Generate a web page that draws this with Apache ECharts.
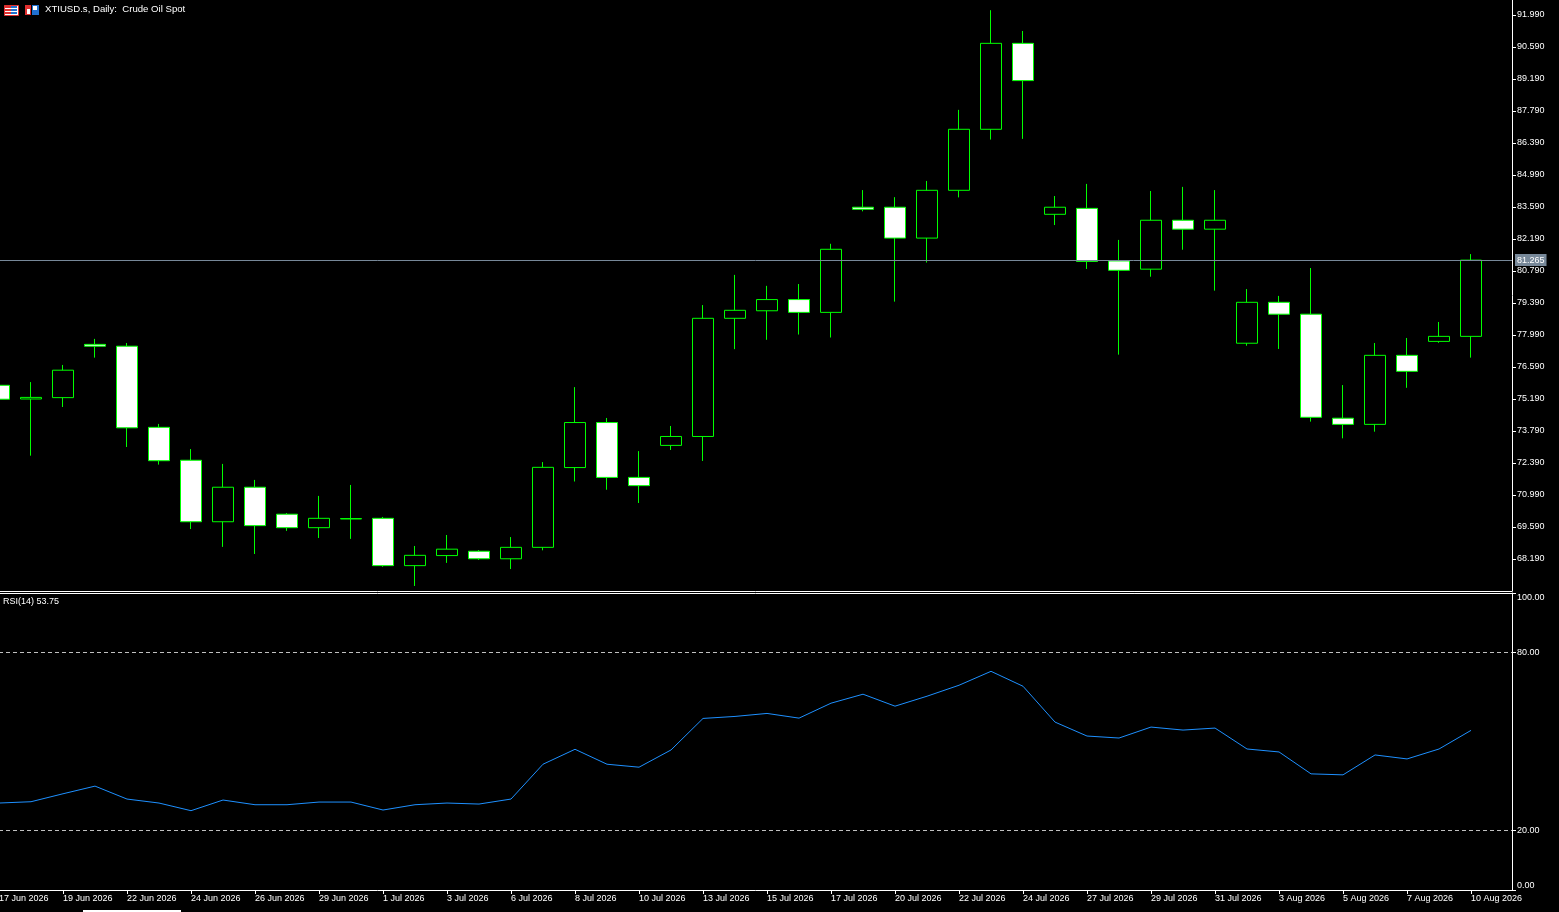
<!DOCTYPE html>
<html>
<head>
<meta charset="utf-8">
<title>XTIUSD.s Daily</title>
<script src="https://cdn.jsdelivr.net/npm/echarts@6.0.0/dist/echarts.min.js"></script>
<style>
  html, body { margin: 0; padding: 0; background: #000; }
  #chart { width: 1559px; height: 912px; }
</style>
</head>
<body>
<div id="chart"></div>
<script>
// 日期（每周含一根周日K线）
const dates = [
  '17 Jun 2026', '18 Jun 2026', '19 Jun 2026', '21 Jun 2026', '22 Jun 2026', '23 Jun 2026',
  '24 Jun 2026', '25 Jun 2026', '26 Jun 2026', '28 Jun 2026', '29 Jun 2026', '30 Jun 2026',
  '1 Jul 2026', '2 Jul 2026', '3 Jul 2026', '5 Jul 2026', '6 Jul 2026', '7 Jul 2026',
  '8 Jul 2026', '9 Jul 2026', '10 Jul 2026', '12 Jul 2026', '13 Jul 2026', '14 Jul 2026',
  '15 Jul 2026', '16 Jul 2026', '17 Jul 2026', '19 Jul 2026', '20 Jul 2026', '21 Jul 2026',
  '22 Jul 2026', '23 Jul 2026', '24 Jul 2026', '26 Jul 2026', '27 Jul 2026', '28 Jul 2026',
  '29 Jul 2026', '30 Jul 2026', '31 Jul 2026', '2 Aug 2026', '3 Aug 2026', '4 Aug 2026',
  '5 Aug 2026', '6 Aug 2026', '7 Aug 2026', '9 Aug 2026', '10 Aug 2026'
];
// OHLC
const opens = [
  75.79, 75.19, 75.25, 77.58, 77.50, 73.95, 72.51, 69.82, 71.33, 70.15, 69.56, 69.94,
  69.97, 67.90, 68.34, 68.53, 68.20, 68.70, 72.19, 74.16, 71.76, 73.16, 73.55, 78.72,
  79.05, 79.54, 78.98, 83.58, 83.58, 82.23, 84.32, 86.99, 90.75, 83.27, 83.53, 81.23,
  80.87, 83.01, 82.62, 77.63, 79.42, 78.90, 74.35, 74.08, 77.10, 77.71, 77.93
];
const highs = [
  75.85, 75.93, 76.68, 77.82, 77.64, 74.10, 73.00, 72.35, 71.65, 70.20, 70.95, 71.43,
  70.03, 68.76, 69.24, 68.58, 69.15, 72.43, 75.71, 74.36, 72.91, 74.01, 79.30, 80.62,
  80.14, 80.22, 81.98, 84.33, 84.02, 84.73, 87.84, 92.20, 91.29, 84.07, 84.60, 82.15,
  84.29, 84.47, 84.33, 80.00, 79.70, 80.92, 75.80, 77.64, 77.86, 78.56, 81.53
];
const lows = [
  75.12, 72.71, 74.84, 77.00, 73.09, 72.32, 69.50, 68.72, 68.41, 69.42, 69.11, 69.07,
  67.85, 67.01, 68.02, 68.15, 67.75, 68.57, 71.58, 71.22, 70.64, 72.96, 72.48, 77.37,
  77.78, 78.01, 77.88, 83.40, 79.45, 81.16, 84.01, 86.54, 86.57, 82.80, 80.88, 77.13,
  80.54, 81.72, 79.93, 77.52, 77.38, 74.20, 73.47, 73.76, 75.68, 77.65, 77.00
];
const closes = [
  75.18, 75.26, 76.45, 77.50, 73.93, 72.49, 69.82, 71.33, 69.65, 69.56, 69.97, 69.96,
  67.90, 68.35, 68.62, 68.20, 68.70, 72.20, 74.16, 71.76, 71.40, 73.55, 78.72, 79.07,
  79.54, 78.98, 81.74, 83.49, 82.23, 84.32, 86.99, 90.75, 89.12, 83.58, 81.21, 80.82,
  83.01, 82.62, 83.01, 79.42, 78.90, 74.39, 74.08, 77.10, 76.40, 77.93, 81.265
];
// RSI(14)
const rsi = [
  29.28, 29.72, 32.40, 34.98, 30.62, 29.28, 26.70, 30.29, 28.71, 28.71, 29.61, 29.61,
  26.93, 28.71, 29.28, 28.94, 30.62, 42.35, 47.38, 42.35, 41.35, 47.15, 57.77, 58.44,
  59.45, 57.87, 62.90, 65.92, 61.90, 65.25, 68.94, 73.63, 68.60, 56.53, 51.84, 51.17,
  54.86, 53.85, 54.52, 47.48, 46.48, 39.10, 38.77, 45.47, 44.13, 47.48, 53.75
];
// 坐标轴刻度
const priceTicks = [
  68.19, 69.59, 70.99, 72.39, 73.79, 75.19, 76.59, 77.99, 79.39,
  80.79, 82.19, 83.59, 84.99, 86.39, 87.79, 89.19, 90.59, 91.99
];
const rsiTicks = [0, 20, 80, 100];
const rsiLevels = [80, 20];
const dateTicks = [0, 2, 4, 6, 8, 10, 12, 14, 16, 18, 20, 22, 24, 26, 28, 30, 32, 34, 36, 38, 40, 42, 44, 46];
const bidPrice = 81.265;

const FONT = 'Liberation Sans';
const WHITE = '#ffffff';

// K线数据 [x, open, close, low, high]
const candleData = dates.map((d, i) => [i, opens[i], closes[i], lows[i], highs[i]]);
const rsiData = rsi.map((v, i) => [i, v]);

// 轴线统一样式
const axisLineOn = { show: true, onZero: false, lineStyle: { color: WHITE, width: 1 } };

const chart = echarts.init(document.getElementById('chart'));
chart.setOption({
  backgroundColor: '#000000',
  animation: false,
  title: [{
    text: 'XTIUSD.s, Daily:  Crude Oil Spot',
    left: 45, top: 4, padding: 0,
    textStyle: { color: WHITE, fontSize: 9.6, fontWeight: 'normal', fontFamily: FONT }
  }, {
    text: `RSI(14) ${rsi[rsi.length - 1].toFixed(2)}`,
    left: 3, top: 597, padding: 0,
    textStyle: { color: WHITE, fontSize: 9, fontWeight: 'normal', fontFamily: FONT }
  }],
  graphic: [
    // 左上角小图标
    { type: 'rect', left: 4, top: 5, shape: { width: 14, height: 10 }, style: { fill: '#fff', stroke: '#e03030', lineWidth: 1 } },
    { type: 'rect', left: 5, top: 6, shape: { width: 6, height: 8 }, style: { fill: '#e03030' } },
    { type: 'rect', left: 11, top: 6, shape: { width: 6, height: 8 }, style: { fill: '#2070d0' } },
    { type: 'rect', left: 5, top: 8, shape: { width: 12, height: 1 }, style: { fill: '#fff' } },
    { type: 'rect', left: 5, top: 11, shape: { width: 12, height: 1 }, style: { fill: '#fff' } },
    { type: 'rect', left: 25, top: 5, shape: { width: 6, height: 10 }, style: { fill: '#e03030' } },
    { type: 'rect', left: 32, top: 5, shape: { width: 7, height: 10 }, style: { fill: '#2070d0' } },
    { type: 'rect', left: 27, top: 9, shape: { width: 3, height: 5 }, style: { fill: '#fff' } },
    { type: 'rect', left: 33, top: 6, shape: { width: 4, height: 4 }, style: { fill: '#fff' } },
    // 底部滚动条
    { type: 'rect', left: 83, top: 910, shape: { width: 98, height: 2 }, style: { fill: '#ffffff' } }
  ],
  grid: [
    { left: -1, top: 0, width: 1513, height: 591, outerBoundsMode: 'none', containLabel: false },
    { left: -1, top: 593, width: 1513, height: 297, outerBoundsMode: 'none', containLabel: false }
  ],
  xAxis: [{
    type: 'value', gridIndex: 0, min: 0, max: 47.28, position: 'bottom',
    axisLine: axisLineOn,
    axisTick: { show: false }, axisLabel: { show: false }, splitLine: { show: false }
  }, {
    type: 'value', gridIndex: 1, min: 0, max: 47.28, position: 'bottom',
    axisLine: axisLineOn,
    axisTick: { show: true, length: 4, lineStyle: { color: WHITE }, customValues: dateTicks },
    axisLabel: {
      show: true, color: WHITE, fontSize: 9, fontFamily: FONT, align: 'left', margin: 4,
      customValues: dateTicks,
      formatter: v => dates[Math.round(v)] || ''
    },
    splitLine: { show: false }
  }, {
    type: 'value', gridIndex: 1, min: 0, max: 47.28, position: 'top',
    axisLine: axisLineOn,
    axisTick: { show: false }, axisLabel: { show: false }, splitLine: { show: false }
  }],
  yAxis: [{
    type: 'value', gridIndex: 0, position: 'right', min: 66.79, max: 92.646,
    axisLine: axisLineOn,
    axisTick: { show: true, length: 4, lineStyle: { color: WHITE }, customValues: priceTicks },
    axisLabel: {
      show: true, color: WHITE, fontSize: 9, fontFamily: FONT, margin: 5,
      customValues: priceTicks,
      formatter: v => v.toFixed(3)
    },
    splitLine: { show: false }
  }, {
    type: 'value', gridIndex: 1, position: 'right', min: 0, max: 100,
    axisLine: axisLineOn,
    axisTick: { show: true, length: 4, lineStyle: { color: WHITE }, customValues: rsiTicks },
    axisLabel: {
      show: true, color: WHITE, fontSize: 9, fontFamily: FONT, margin: 5,
      customValues: rsiTicks,
      verticalAlignMinLabel: 'bottom', verticalAlignMaxLabel: 'top',
      formatter: v => v.toFixed(2)
    },
    splitLine: { show: false }
  }],
  series: [{
    name: 'XTIUSD.s',
    type: 'candlestick',
    xAxisIndex: 0, yAxisIndex: 0,
    barWidth: 21,
    data: candleData,
    itemStyle: {
      color: '#000000', color0: '#ffffff',
      borderColor: '#00ff00', borderColor0: '#00ff00', borderColorDoji: '#00ff00',
      borderWidth: 1
    },
    markLine: {
      silent: true, symbol: 'none', animation: false,
      lineStyle: { color: '#778899', type: 'solid', width: 1 },
      label: {
        show: true, position: 'end', distance: 3,
        formatter: bidPrice.toFixed(3),
        color: '#ffffff', backgroundColor: '#778899', padding: [2, 2, 1, 2],
        fontSize: 9, fontFamily: FONT
      },
      data: [{ yAxis: bidPrice }]
    }
  }, {
    name: 'RSI(14)',
    type: 'line',
    xAxisIndex: 1, yAxisIndex: 1,
    data: rsiData,
    symbol: 'none',
    lineStyle: { color: '#1e90ff', width: 1 },
    markLine: {
      silent: true, symbol: 'none', animation: false,
      lineStyle: { color: '#c0c0c0', type: [4, 3], width: 1 },
      label: { show: false },
      data: rsiLevels.map(v => ({ yAxis: v }))
    }
  }]
});
</script>
</body>
</html>
